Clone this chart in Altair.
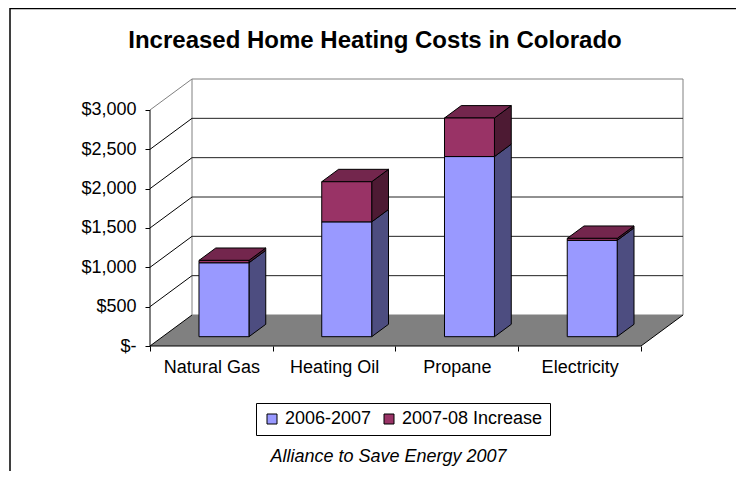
import json
import altair as alt
import pandas as pd

# ---------------- data ----------------
categories = ["Natural Gas", "Heating Oil", "Propane", "Electricity"]
base_2006_07 = [940, 1460, 2290, 1225]
increase_2007_08 = [30, 510, 490, 25]
series_names = ["2006-2007", "2007-08 Increase"]
y_ticks = [0, 500, 1000, 1500, 2000, 2500, 3000]

title_text = "Increased Home Heating Costs in Colorado"
source_text = "Alliance to Save Energy 2007"

# ---------------- oblique 3D geometry (data units) ----------------
NCAT = len(categories)
YMAX = 3000
DX = 0.3422      # full depth shift along x (category units)
DY = 394         # full depth shift along y (dollars)
BAR_W = 0.407    # bar width (category units)
Z0, Z1 = 0.3, 0.7  # bar front / back depth fractions

PX_PER_CAT = 122.75
PX_PER_DOLLAR = 236 / 3000
W = round((NCAT + DX) * PX_PER_CAT)
H = round((YMAX + DY) * PX_PER_DOLLAR)

front_fill = {"2006-2007": "#9999FF", "2007-08 Increase": "#993366"}
side_fill = {"2006-2007": "#4D4D80", "2007-08 Increase": "#4D1A33"}
top_fill = {"2006-2007": "#6B6BB3", "2007-08 Increase": "#73264D"}

fronts, sides, tops = [], [], []
for i, cat in enumerate(categories):
    segs = [(series_names[0], 0, base_2006_07[i]),
            (series_names[1], base_2006_07[i], base_2006_07[i] + increase_2007_08[i])]
    L = i + (1 - BAR_W) / 2
    R = i + (1 + BAR_W) / 2
    for k, (s, b, t) in enumerate(segs):
        fid = f"{i}-{k}"
        fronts.append(dict(series=s, x=L + Z0 * DX, x2=R + Z0 * DX,
                           y=b + Z0 * DY, y2=t + Z0 * DY))
        for z in (Z0, Z1):
            sides.append(dict(fid=fid, fill=side_fill[s], x=R + z * DX,
                              y=t + z * DY, y2=b + z * DY))
        if k == len(segs) - 1:
            for z in (Z0, Z1):
                tops.append(dict(fid=fid, fill=top_fill[s], y=t + z * DY,
                                 x=L + z * DX, x2=R + z * DX))

fronts = pd.DataFrame(fronts)
sides = pd.DataFrame(sides)
tops = pd.DataFrame(tops)

left_wall = pd.DataFrame([dict(x=0, y=0, y2=YMAX), dict(x=DX, y=DY, y2=YMAX + DY)])
back_wall = pd.DataFrame([dict(x=DX, x2=NCAT + DX, y=DY, y2=YMAX + DY)])
floor = pd.DataFrame([dict(y=0, x=0, x2=NCAT), dict(y=DY, x=DX, x2=NCAT + DX)])
back_grid = pd.DataFrame([dict(x=DX, x2=NCAT + DX, y=v + DY) for v in y_ticks[1:-1]])

lines = []
for v in y_ticks:
    col = "#808080" if v == YMAX else "#000000"
    lines.append(dict(id=f"g{v}", x=0, y=v, c=col))
    lines.append(dict(id=f"g{v}", x=DX, y=v + DY, c=col))
lines += [dict(id="fr", x=NCAT, y=0, c="#000000"), dict(id="fr", x=NCAT + DX, y=DY, c="#000000")]
lines += [dict(id="front", x=0, y=0, c="#000000"), dict(id="front", x=NCAT, y=0, c="#000000")]
lines = pd.DataFrame(lines)
yaxis_line = pd.DataFrame([dict(x=0, y=0, y2=YMAX)])

# ---------------- scales & axes ----------------
FONT = "Liberation Sans"
xs = alt.Scale(domain=[0, NCAT + DX], nice=False, zero=False)
ys = alt.Scale(domain=[0, YMAX + DY], nice=False, zero=False)

cats_js = json.dumps(categories)
x_axis = alt.Axis(
    values=list(range(NCAT + 1)),
    labelExpr=f"datum.value < {NCAT} ? {cats_js}[datum.value] : ''",
    labelOffset=PX_PER_CAT / 2, labelFlush=False, labelOverlap=False,
    labelFont=FONT, labelFontSize=18, labelColor="black",
    labelBaseline="alphabetic", labelPadding=21,
    tickSize=5, tickColor="black", domain=False, grid=False,
    title=source_text, titleFont=FONT, titleFontSize=18, titleFontStyle="italic",
    titleFontWeight="normal", titleColor="black", titleX=238, titleY=115,
    titleBaseline="alphabetic", titleAlign="center",
)
y_axis = alt.Axis(
    values=y_ticks,
    labelExpr="datum.value == 0 ? '$-' : '$' + format(datum.value, ',')",
    labelFont=FONT, labelFontSize=18, labelColor="black", labelPadding=9,
    tickSize=5, tickColor="black", domain=False, grid=False, title=None,
)


def X(f="x"):
    return alt.X(f"{f}:Q", scale=xs, axis=x_axis)


def Y(f="y"):
    return alt.Y(f"{f}:Q", scale=ys, axis=y_axis)


frame = alt.Chart(pd.DataFrame([{"a": 1}])).mark_rect(
    filled=False, stroke="black", strokeWidth=1.5
).encode(x=alt.value(-140), x2=alt.value(590), y=alt.value(-70.5), y2=alt.value(430))

lw = alt.Chart(left_wall).mark_area(orient="vertical", fill="white").encode(
    x=X(), y=Y(), y2="y2:Q")
bw = alt.Chart(back_wall).mark_rect(fill="white", stroke="#808080", strokeWidth=1).encode(
    x=X(), x2="x2:Q", y=Y(), y2="y2:Q")
fl = alt.Chart(floor).mark_area(orient="horizontal", fill="#808080").encode(
    y=Y(), x=X(), x2="x2:Q")
bg = alt.Chart(back_grid).mark_rule(color="#222222", strokeWidth=1).encode(
    x=X(), x2="x2:Q", y=Y())
ln = alt.Chart(lines).mark_line(strokeWidth=1).encode(
    x=X(), y=Y(), detail="id:N", stroke=alt.Stroke("c:N", scale=None))
ya = alt.Chart(yaxis_line).mark_rule(color="black", strokeWidth=1).encode(
    x=X(), y=Y(), y2="y2:Q")

fr = alt.Chart(fronts).mark_rect(stroke="black", strokeWidth=1).encode(
    x=X(), x2="x2:Q", y=Y(), y2="y2:Q",
    color=alt.Color("series:N",
                    scale=alt.Scale(domain=series_names,
                                    range=[front_fill[s] for s in series_names]),
                    legend=alt.Legend(
                        orient="none", legendX=106, legendY=324,
                        direction="horizontal", title=None,
                        strokeColor="black", fillColor="white", padding=7,
                        symbolType="square", symbolSize=100,
                        symbolStrokeColor="black", symbolStrokeWidth=1,
                        labelFont=FONT, labelFontSize=18, labelColor="black",
                        labelOffset=4, columnPadding=8,
                    )))
sd = alt.Chart(sides).mark_area(orient="vertical", stroke="black", strokeWidth=1).encode(
    x=X(), y=Y(), y2="y2:Q", detail="fid:N", fill=alt.Fill("fill:N", scale=None))
tp = alt.Chart(tops).mark_area(orient="horizontal", stroke="black", strokeWidth=1).encode(
    y=Y(), x=X(), x2="x2:Q", detail="fid:N", fill=alt.Fill("fill:N", scale=None))

chart = alt.layer(frame, lw, bw, fl, bg, ln, ya, sd, tp, fr).properties(
    width=W, height=H,
    title=alt.TitleParams(text=title_text, font=FONT, fontSize=24, fontWeight="bold",
                          color="black", anchor="middle", frame="group",
                          dx=-41.5, offset=0, dy=64.5, baseline="alphabetic"),
    autosize=alt.AutoSizeParams(type="none"),
    padding={"left": 142, "top": 71, "right": 728 - 142 - W, "bottom": 463 - 71 - H},
    background="white",
).configure_view(stroke=None)

chart.save("out.html", embed_options={"renderer": "svg", "actions": False})
